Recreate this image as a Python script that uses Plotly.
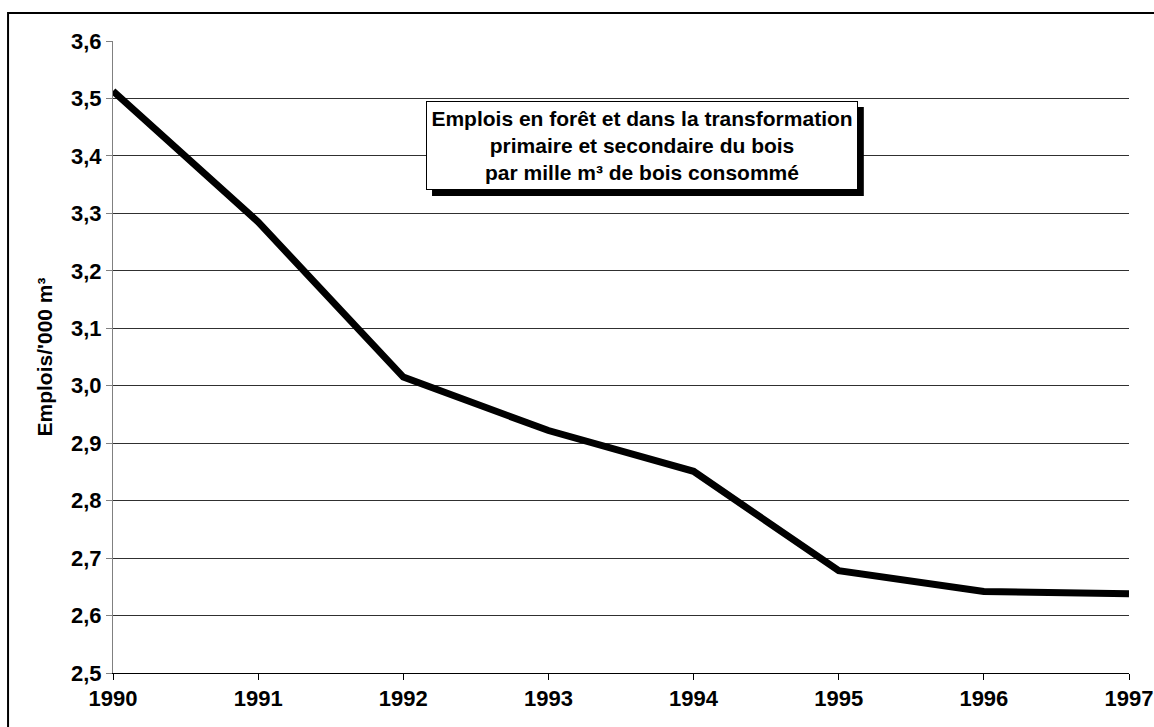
import plotly.graph_objects as go

years = [1990, 1991, 1992, 1993, 1994, 1995, 1996, 1997]
emplois = [3.513, 3.285, 3.015, 2.922, 2.851, 2.678, 2.642, 2.638]
tick_years = [1990, 1991, 1992, 1993, 1994, 1995, 1996, 1997]
y_ticks = [2.5, 2.6, 2.7, 2.8, 2.9, 3.0, 3.1, 3.2, 3.3, 3.4, 3.5, 3.6]
title_lines = ["Emplois en forêt et dans la transformation",
               "primaire et secondaire du bois",
               "par mille m³ de bois consommé"]
y_title = "Emplois/'000 m³"

FONT = "Liberation Sans, Arial, sans-serif"

fig = go.Figure()
fig.add_trace(go.Scatter(x=years, y=emplois, mode="lines",
                         line=dict(color="black", width=7),
                         showlegend=False, hoverinfo="skip"))

fig.update_layout(
    width=1154, height=727,
    margin=dict(l=113, r=25, t=41, b=54, autoexpand=False),
    paper_bgcolor="white", plot_bgcolor="white",
    separators=", ",
    font=dict(family=FONT, color="black"),
    xaxis=dict(range=[1990, 1997], tickvals=tick_years,
               ticktext=[str(v) for v in tick_years],
               ticks="outside", ticklen=6, tickcolor="black", tickwidth=1,
               showline=True, linecolor="black", linewidth=1,
               showgrid=False, zeroline=False, ticklabeloverflow="allow",
               automargin=False,
               tickfont=dict(family=FONT, size=22, color="black", weight="bold")),
    xaxis2=dict(range=[1990, 1997], tickvals=tick_years, overlaying="x",
                anchor="y", side="bottom", ticks="inside", ticklen=6,
                tickcolor="black", tickwidth=1, showticklabels=False,
                showline=False, showgrid=False, zeroline=False,
                automargin=False),
    yaxis=dict(range=[2.5, 3.6], tickvals=y_ticks, tickformat=".1f",
               ticks="outside", ticklen=6, tickcolor="#808080", tickwidth=1,
               showline=True, linecolor="#808080", linewidth=1,
               showgrid=True, gridcolor="#303030", gridwidth=1,
               zeroline=False, automargin=False,
               tickfont=dict(family=FONT, size=22, color="black", weight="bold"),
               title=dict(text=y_title, standoff=12,
                          font=dict(family=FONT, size=21, color="black", weight="bold"))),
    shapes=[
        dict(type="rect", xref="paper", yref="paper",
             x0=0.314, x1=0.739, y0=0.7547, y1=0.8956,
             fillcolor="black", line=dict(width=0), layer="above"),
        dict(type="rect", xref="paper", yref="paper",
             x0=-0.1033, x1=1.3, y0=-0.3, y1=1.0443,
             fillcolor="rgba(0,0,0,0)", line=dict(color="black", width=2), layer="above"),
    ],
    annotations=[
        dict(xref="paper", yref="paper", x=0.5207, y=0.8346,
             xanchor="center", yanchor="middle",
             text="<br>".join(title_lines), showarrow=False, align="center",
             font=dict(family=FONT, size=21, color="black", weight="bold"),
             bgcolor="white", bordercolor="black", borderwidth=1,
             width=430, height=87, borderpad=0),
    ],
)

fig.write_html(
    "out.html",
    config={"displayModeBar": False},
    post_script=("document.documentElement.style.margin='0';"
                 "document.body.style.margin='0';"
                 "document.body.style.overflow='hidden';"
                 "document.documentElement.style.overflow='hidden';"),
)
